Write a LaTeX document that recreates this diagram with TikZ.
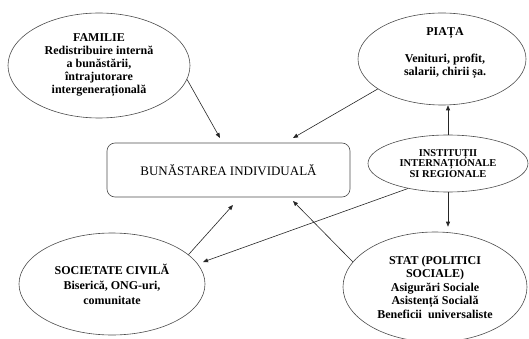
\documentclass[tikz,border=0pt]{standalone}
\usepackage{fontspec}
\setmainfont{Liberation Serif}
\usetikzlibrary{shapes.geometric,arrows.meta,calc}
\begin{document}
\begin{tikzpicture}[x=1pt,y=-1pt,
  oval/.style={ellipse,draw=black!70,line width=0.6pt,inner sep=0pt,align=center,font=\bfseries\fontsize{12}{13}\selectfont},
  conn/.style={draw=black!85,line width=0.6pt,-{Triangle[length=5pt,width=4pt]}},
  mainbox/.style={draw=black!70,rounded corners=8pt,line width=0.6pt,minimum width=243pt,minimum height=54pt,inner sep=0pt,font=\fontsize{13}{14}\selectfont},
  txt/.style={align=center,inner sep=0pt}]
\useasboundingbox (0,0) rectangle (529,339);

\node[oval,minimum width=182pt,minimum height=105pt] (fam) at (99,65.5)
  {FAMILIE\\Redistribuire internă\\a bunăstării,\\întrajutorare\\intergenerațională};

\node[oval,minimum width=168pt,minimum height=92pt] (piata) at (442,59) {};
\node[txt,font=\bfseries\fontsize{12}{12.5}\selectfont] (piatatxt) at (445,53)
  {PIAȚA\\[14.5pt]Venituri, profit,\\salarii, chirii șa.};

\node[mainbox] (box) at (228.5,170) {BUNĂSTAREA INDIVIDUALĂ};

\node[oval,minimum width=160pt,minimum height=57pt,font=\bfseries\fontsize{10.5}{10.5}\selectfont] (inst) at (448,163.5)
  {INSTITUȚII\\INTERNAȚIONALE\\SI REGIONALE};

\node[oval,minimum width=186pt,minimum height=102pt,font=\bfseries\fontsize{12}{15}\selectfont] (soc) at (112,284)
  {SOCIETATE CIVILĂ\\Biserică, ONG-uri,\\comunitate};

\node[oval,minimum width=184pt,minimum height=110pt,font=\bfseries\fontsize{12}{13.5}\selectfont] (stat) at (435,287)
  {STAT (POLITICI\\SOCIALE)\\Asigurări Sociale\\Asistență Socială\\Beneficii\ \ universaliste};

\coordinate (t1) at (220,138);
\coordinate (t2) at (293,138);
\coordinate (t5) at (203,262);
\coordinate (t6) at (233,205);
\coordinate (t7) at (293,201);

\draw[conn] (fam.-9) -- (t1);
\draw[conn] (piata.205) -- (t2);
\draw[conn] (inst.north) -- (inst.north |- piata.south);
\draw[conn,shorten >=5pt] (inst.south) -- (inst.south |- stat.north);
\draw[conn] (inst.212) -- (t5);
\draw[conn] (soc.21) -- (t6);
\draw[conn] (stat.163) -- (t7);
\end{tikzpicture}
\end{document}
